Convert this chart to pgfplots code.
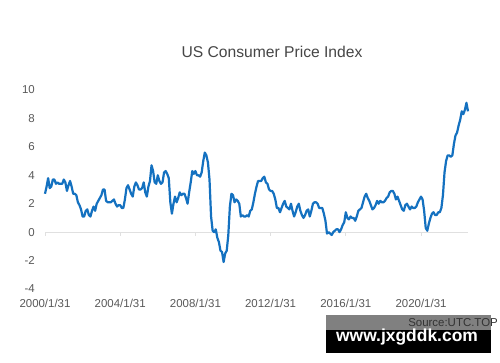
\documentclass[border=0pt]{standalone}
\usepackage{pgfplots}
\pgfplotsset{compat=1.18}
\usepackage{pgfplotstable}
\usepackage{fontspec}
\setmainfont{Liberation Sans}
\definecolor{cpiblue}{RGB}{20,113,192}
\definecolor{ticktext}{RGB}{89,89,89}
\definecolor{titletext}{RGB}{70,70,70}
\pgfplotstableread{
m v
0 2.7
1 3.2
2 3.8
3 3.1
4 3.2
5 3.7
6 3.7
7 3.4
8 3.5
9 3.4
10 3.4
11 3.4
12 3.7
13 3.5
14 2.9
15 3.3
16 3.6
17 3.2
18 2.7
19 2.7
20 2.6
21 2.1
22 1.9
23 1.6
24 1.1
25 1.1
26 1.5
27 1.6
28 1.2
29 1.1
30 1.5
31 1.8
32 1.5
33 2.0
34 2.2
35 2.4
36 2.6
37 3.0
38 3.0
39 2.2
40 2.1
41 2.1
42 2.1
43 2.2
44 2.3
45 2.0
46 1.8
47 1.9
48 1.9
49 1.7
50 1.7
51 2.3
52 3.1
53 3.3
54 3.0
55 2.7
56 2.5
57 3.2
58 3.5
59 3.3
60 3.0
61 3.0
62 3.1
63 3.5
64 2.8
65 2.5
66 3.2
67 3.6
68 4.7
69 4.3
70 3.5
71 3.4
72 4.0
73 3.6
74 3.4
75 3.5
76 4.2
77 4.3
78 4.1
79 3.8
80 2.1
81 1.3
82 2.0
83 2.5
84 2.1
85 2.4
86 2.8
87 2.6
88 2.7
89 2.7
90 2.4
91 2.0
92 2.8
93 3.5
94 4.3
95 4.1
96 4.3
97 4.0
98 4.0
99 3.9
100 4.2
101 5.0
102 5.6
103 5.4
104 4.9
105 3.7
106 1.1
107 0.1
108 0.0
109 0.2
110 -0.4
111 -0.7
112 -1.3
113 -1.4
114 -2.1
115 -1.5
116 -1.3
117 -0.2
118 1.8
119 2.7
120 2.6
121 2.1
122 2.3
123 2.2
124 2.0
125 1.1
126 1.2
127 1.1
128 1.1
129 1.2
130 1.1
131 1.5
132 1.6
133 2.1
134 2.7
135 3.2
136 3.6
137 3.6
138 3.6
139 3.8
140 3.9
141 3.5
142 3.4
143 3.0
144 2.9
145 2.9
146 2.7
147 2.3
148 1.7
149 1.7
150 1.4
151 1.7
152 2.0
153 2.2
154 1.8
155 1.7
156 1.6
157 2.0
158 1.5
159 1.1
160 1.4
161 1.8
162 2.0
163 1.5
164 1.2
165 1.0
166 1.2
167 1.5
168 1.6
169 1.1
170 1.5
171 2.0
172 2.1
173 2.1
174 2.0
175 1.7
176 1.7
177 1.7
178 1.3
179 0.8
180 -0.1
181 0.0
182 -0.1
183 -0.2
184 0.0
185 0.1
186 0.2
187 0.2
188 0.0
189 0.2
190 0.5
191 0.7
192 1.4
193 1.0
194 0.9
195 1.1
196 1.0
197 1.0
198 0.8
199 1.1
200 1.5
201 1.6
202 1.7
203 2.1
204 2.5
205 2.7
206 2.4
207 2.2
208 1.9
209 1.6
210 1.7
211 1.9
212 2.2
213 2.0
214 2.2
215 2.1
216 2.1
217 2.2
218 2.4
219 2.5
220 2.8
221 2.9
222 2.9
223 2.7
224 2.3
225 2.5
226 2.2
227 1.9
228 1.6
229 1.5
230 1.9
231 2.0
232 1.8
233 1.6
234 1.8
235 1.7
236 1.7
237 1.8
238 2.1
239 2.3
240 2.5
241 2.3
242 1.5
243 0.3
244 0.1
245 0.6
246 1.0
247 1.3
248 1.4
249 1.2
250 1.2
251 1.4
252 1.4
253 1.7
254 2.6
255 4.2
256 5.0
257 5.4
258 5.4
259 5.3
260 5.4
261 6.2
262 6.8
263 7.0
264 7.5
265 7.9
266 8.5
267 8.3
268 8.6
269 9.1
270 8.5
}\cpidata
\begin{document}
\begin{tikzpicture}[x=1bp,y=1bp]
\path[use as bounding box, fill=white] (0,0) rectangle (500,362);
\node[text=titletext, font=\fontsize{15.7}{18}\selectfont] at (272,310) {US Consumer Price Index};
\begin{axis}[
  at={(45bp,73bp)}, anchor=south west,
  scale only axis, width=423bp, height=199bp,
  xmin=0, xmax=270, ymin=-4, ymax=10,
  ytick={-4,-2,0,2,4,6,8,10},
  xtick={0,48,96,144,192,240},
  xticklabels={2000/1/31,2004/1/31,2008/1/31,2012/1/31,2016/1/31,2020/1/31},
  axis line style={draw=none},
  major tick length=0pt,
  tick label style={font=\fontsize{11.5}{13}\selectfont, text=ticktext},
  /pgf/number format/assume math mode=true,
  yticklabel style={anchor=east, inner sep=0pt, xshift=-10bp},
  xticklabel style={anchor=center, inner sep=0pt, yshift=-14bp},
  clip=false,
]
\draw[color=black!12, line width=1bp] (axis cs:0,0) -- (axis cs:270,0);
\pgfplotsinvokeforeach{0,48,96,144,192,240}{
  \draw[color=black!12, line width=1bp] (axis cs:#1,0) -- ([yshift=-4bp]axis cs:#1,0);
}
\addplot[color=cpiblue, line width=2.2bp, line join=round, mark=none] table[x=m, y=v] {\cpidata};
\end{axis}
\fill[black!50] (326,32) rectangle (491,47);
\fill[black] (326,9) rectangle (491,32);
\node[anchor=east, inner sep=0pt, text=black!80, font=\fontsize{11.5}{13}\selectfont] at (498,39.5) {Source:UTC.TOP};
\node[inner sep=0pt, text=white, font=\fontsize{17.5}{20}\selectfont\bfseries] at (407,25) {www.jxgddk.com};
\end{tikzpicture}
\end{document}
